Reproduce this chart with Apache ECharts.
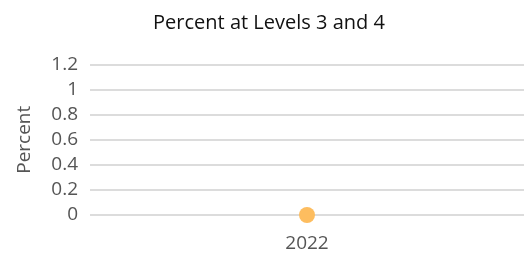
<!DOCTYPE html>
<html>
<head>
<meta charset="utf-8">
<script src="https://cdn.jsdelivr.net/npm/echarts@6/dist/echarts.min.js"></script>
<style>
  html, body { margin: 0; padding: 0; background: #fff; }
  #chart { width: 525px; height: 254px; }
</style>
</head>
<body>
<div id="chart"></div>
<script>
// data
const years = ['2022'];
const percentValues = [0];
const yTicks = { min: 0, max: 1.2, interval: 0.2 };

const font = '"Open Sans", "Noto Sans", sans-serif';
const chart = echarts.init(document.getElementById('chart'));
chart.setOption({
  animation: false,
  title: {
    text: 'Percent at Levels 3 and 4',
    left: 264,
    textAlign: 'center',
    top: 8,
    textStyle: { fontFamily: font, fontSize: 20, fontWeight: 'normal', color: '#111' }
  },
  grid: { left: 90, right: 1, top: 64.5, bottom: 39 },
  xAxis: {
    type: 'category',
    data: years,
    axisLine: { show: false },
    axisTick: { show: false },
    axisLabel: { fontFamily: font, fontSize: 19, color: '#555', margin: 19 }
  },
  yAxis: {
    type: 'value',
    min: yTicks.min,
    max: yTicks.max,
    interval: yTicks.interval,
    name: 'Percent',
    nameLocation: 'middle',
    nameGap: 56,
    nameTextStyle: { fontFamily: font, fontSize: 19, color: '#555' },
    axisLabel: {
      fontFamily: font, fontSize: 19, color: '#555', margin: 12,
      formatter: v => String(Math.round(v * 10) / 10)
    },
    splitLine: { lineStyle: { color: '#dcdcdc', width: 2 } }
  },
  series: [{
    type: 'line',
    data: percentValues,
    symbol: 'circle',
    symbolSize: 16,
    itemStyle: { color: '#fdbd5f' },
    lineStyle: { color: '#fdbd5f' }
  }]
});
</script>
</body>
</html>
